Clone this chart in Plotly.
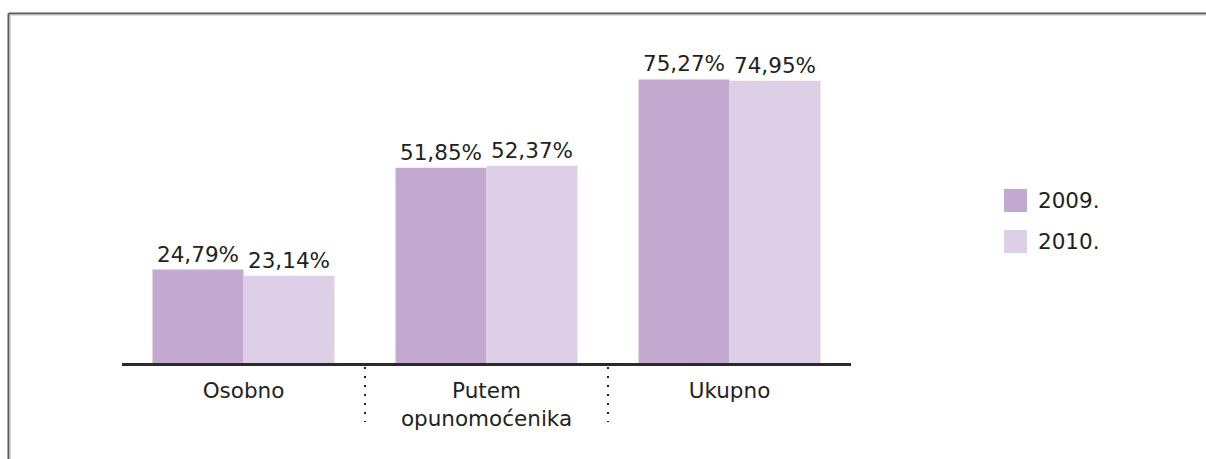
import plotly.graph_objects as go

categories = ["Osobno", "Putem<br>opunomoćenika", "Ukupno"]
series_names = ["2009.", "2010."]
values_2009 = [24.79, 51.85, 75.27]
values_2010 = [23.14, 52.37, 74.95]
labels_2009 = ["24,79%", "51,85%", "75,27%"]
labels_2010 = ["23,14%", "52,37%", "74,95%"]
colors = ["#c3a9cf", "#ddd0e6"]

FONT = "DejaVu Sans"
TXT = "#231f20"
FS = 21.5

fig = go.Figure()
for name, vals, labs, col in zip(series_names, [values_2009, values_2010],
                                 [labels_2009, labels_2010], colors):
    fig.add_trace(go.Bar(
        x=categories, y=vals, name=name, marker=dict(color=col, line=dict(width=0)),
        text=labs, textposition="outside", constraintext="none", cliponaxis=False,
        textfont=dict(family=FONT, size=FS, color=TXT), showlegend=False,
        hoverinfo="skip",
    ))

# body margin is removed below, so figure pixels == window pixels
W, H = 1206, 459
AX_L, AX_R, TOP, BASE = 122, 851, 24, 363
L, R, T, B = AX_L, W - AX_R, TOP, H - BASE
pw, ph = AX_R - AX_L, BASE - TOP

def px(x):
    return (x - AX_L) / pw

def py(y):
    return (BASE - y) / ph

shapes = []
# frame lines (top and left)
shapes.append(dict(type="line", xref="paper", yref="paper", x0=px(8.5), x1=px(1210), y0=py(13.5), y1=py(13.5),
                   line=dict(color="#5a5a5a", width=2)))
shapes.append(dict(type="line", xref="paper", yref="paper", x0=px(10), x1=px(1210), y0=py(15.2), y1=py(15.2),
                   line=dict(color="#cfcfcf", width=1)))
shapes.append(dict(type="line", xref="paper", yref="paper", x0=px(8.5), x1=px(8.5), y0=py(13.5), y1=py(470),
                   line=dict(color="#5a5a5a", width=2)))
shapes.append(dict(type="line", xref="paper", yref="paper", x0=px(10.2), x1=px(10.2), y0=py(15), y1=py(470),
                   line=dict(color="#cfcfcf", width=1)))
# dotted separators between categories
for xc in [0.5, 1.5]:
    shapes.append(dict(type="line", xref="x", yref="paper", x0=xc, x1=xc, y0=py(367), y1=py(422),
                       line=dict(color="#231f20", width=2, dash="2px,7px")))
# legend swatches
annotations = []
for i, (name, col) in enumerate(zip(series_names, colors)):
    top = 189 + i * 41
    shapes.append(dict(type="rect", xref="paper", yref="paper", x0=px(1004), x1=px(1027),
                       y0=py(top), y1=py(top + 23), fillcolor=col, line=dict(width=0)))
    annotations.append(dict(xref="paper", yref="paper", x=px(1036), y=py(top + 11.5), text=name,
                            showarrow=False, xanchor="left", yanchor="middle",
                            font=dict(family=FONT, size=FS, color=TXT)))

fig.update_layout(
    width=W, height=H,
    margin=dict(l=L, r=R, t=T, b=B, pad=0),
    paper_bgcolor="white", plot_bgcolor="white",
    barmode="group", bargap=0.251, bargroupgap=0,
    font=dict(family=FONT, size=FS, color=TXT),
    shapes=shapes, annotations=annotations,
    hovermode=False,
    xaxis=dict(range=[-0.5, 2.5], showgrid=False, zeroline=False, showline=True,
               linecolor="#2b2b2b", linewidth=3, ticks="", ticklabelstandoff=6,
               tickfont=dict(family=FONT, size=FS, color=TXT), fixedrange=True),
    yaxis=dict(range=[0, 90], visible=False, fixedrange=True),
)

fig.write_html(
    "out.html",
    config={"displayModeBar": False, "staticPlot": True},
    post_script="document.body.style.margin='0';document.body.style.overflow='hidden';",
)
